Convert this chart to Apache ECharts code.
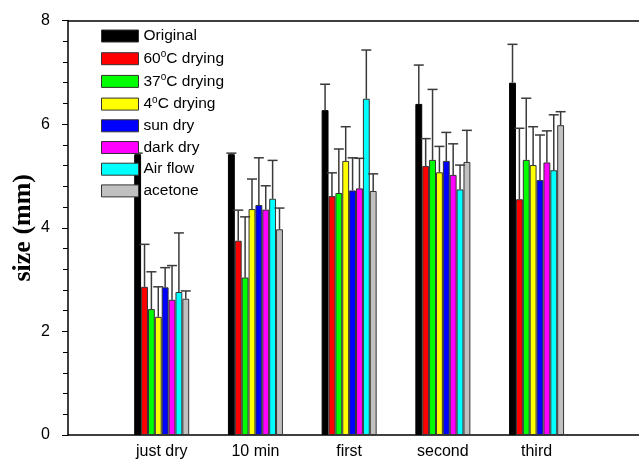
<!DOCTYPE html>
<html>
<head>
    <meta charset="utf-8">
    <title>size</title>
    <script src="https://cdn.jsdelivr.net/npm/echarts@6/dist/echarts.min.js"></script>
    <style type="text/css">
        body{ margin:0; background:#fff; }
        #main{ width:639px; height:465px; }
    </style>
</head>
<body>
<div id="main"></div>
<script>
    var categories = ['just dry', '10 min', 'first', 'second', 'third'];
    var names = ['Original', '60°C drying', '37°C drying', '4°C drying', 'sun dry', 'dark dry', 'Air flow', 'acetone'];
    var colors = ['#000000', '#ff0000', '#00ff00', '#ffff00', '#0000ff', '#ff00ff', '#00ffff', '#c0c0c0'];

    var original = [5.42, 5.42, 6.27, 6.39, 6.80];
    var dry60 = [2.86, 3.75, 4.61, 5.19, 4.55];
    var dry37 = [2.43, 3.04, 4.67, 5.31, 5.31];
    var dry4 = [2.28, 4.36, 5.29, 5.07, 5.21];
    var sunDry = [2.85, 4.44, 4.72, 5.29, 4.92];
    var darkDry = [2.61, 4.35, 4.76, 5.02, 5.26];
    var airFlow = [2.76, 4.56, 6.49, 4.74, 5.11];
    var acetone = [2.63, 3.97, 4.71, 5.27, 5.98];

    var errOriginal = [0.02, 0.02, 0.50, 0.75, 0.74];
    var err60 = [0.82, 0.59, 0.45, 0.53, 1.37];
    var err37 = [0.72, 1.17, 0.85, 1.36, 1.19];
    var err4 = [0.58, 0.58, 0.66, 0.50, 0.74];
    var errSun = [0.38, 0.91, 0.63, 0.55, 0.87];
    var errDark = [0.66, 0.46, 0.58, 0.60, 0.61];
    var errAir = [1.14, 0.74, 0.94, 0.47, 1.07];
    var errAcetone = [0.15, 0.41, 0.33, 0.61, 0.26];

    var yTicks = [0, 2, 4, 6, 8];

    var values = [original, dry60, dry37, dry4, sunDry, darkDry, airFlow, acetone];
    var errors = [errOriginal, err60, err37, err4, errSun, errDark, errAir, errAcetone];

    // padded axis: one empty slot before, two after (plot runs off the right edge)
    var axisCats = [''].concat(categories).concat(['', '']);
    var barW = 6.875;

    var series = [];
    values.forEach(function (vals, i) {
        series.push({
            name: names[i],
            type: 'bar',
            barWidth: barW,
            barGap: '0%',
            data: [null].concat(vals),
            itemStyle: {color: colors[i], borderColor: i === 0 ? '#000' : '#333', borderWidth: 1},
            z: 2
        });
    });
    values.forEach(function (vals, i) {
        var offset = (i - 3.5) * barW;
        series.push({
            name: 'err' + i,
            type: 'custom',
            z: 3,
            data: vals.map(function (v, k) { return [k + 1, v, v + errors[i][k]]; }),
            renderItem: function (params, api) {
                var p0 = api.coord([api.value(0), api.value(1)]);
                var p1 = api.coord([api.value(0), api.value(2)]);
                var x = p0[0] + offset;
                var st = {stroke: '#3a3a3a', lineWidth: 1.5};
                return {
                    type: 'group',
                    children: [
                        {type: 'line', shape: {x1: x, y1: p0[1], x2: x, y2: p1[1]}, style: st},
                        {type: 'line', shape: {x1: x - 5, y1: p1[1], x2: x + 5, y2: p1[1]}, style: st}
                    ]
                };
            }
        });
    });

    var myChart = echarts.init(document.getElementById('main'));
    var option = {
        animation: false,
        textStyle: {fontFamily: 'Liberation Sans'},
        grid: {left: 68, top: 20.5, width: 656, height: 414.5, outerBoundsMode: 'none', containLabel: false},
        legend: {
            data: names,
            orient: 'vertical',
            left: 96,
            top: 23,
            itemWidth: 37,
            itemHeight: 12,
            itemGap: 5.7,
            icon: 'rect',
            itemStyle: {borderColor: '#333', borderWidth: 1},
            formatter: function (n) { return n.replace('°', '{sup|o}'); },
            textStyle: {
                fontSize: 15.5, color: '#000', fontFamily: 'Liberation Sans',
                rich: {sup: {fontSize: 10, fontFamily: 'Liberation Sans', color: '#000', verticalAlign: 'bottom', padding: [0, 0, 8, 0]}}
            }
        },
        xAxis: [{
            type: 'category',
            data: axisCats,
            boundaryGap: false,
            axisLine: {lineStyle: {color: '#000', width: 1.5}},
            axisTick: {show: false},
            axisLabel: {interval: 0, margin: 9, fontSize: 16, color: '#000', fontFamily: 'Liberation Sans'}
        }, {
            type: 'category',
            position: 'top',
            data: axisCats,
            boundaryGap: false,
            axisLine: {lineStyle: {color: '#000', width: 1.5}},
            axisTick: {show: false},
            axisLabel: {show: false}
        }],
        yAxis: {
            type: 'value',
            min: yTicks[0],
            max: yTicks[yTicks.length - 1],
            interval: 2,
            name: 'size (mm)',
            nameLocation: 'middle',
            nameGap: 32,
            nameMoveOverlap: false,
            nameTextStyle: {fontFamily: 'Liberation Serif', fontWeight: 'bold', fontSize: 26, color: '#000'},
            axisLine: {show: true, lineStyle: {color: '#000', width: 1.5}},
            axisTick: {show: true, length: 6, lineStyle: {color: '#000'}},
            minorTick: {show: true, splitNumber: 5, length: 5, lineStyle: {color: '#000'}},
            splitLine: {show: false},
            axisLabel: {margin: 18, fontSize: 16, color: '#000', fontFamily: 'Liberation Sans'}
        },
        series: series
    };
    myChart.setOption(option);
</script>
</body>
</html>
